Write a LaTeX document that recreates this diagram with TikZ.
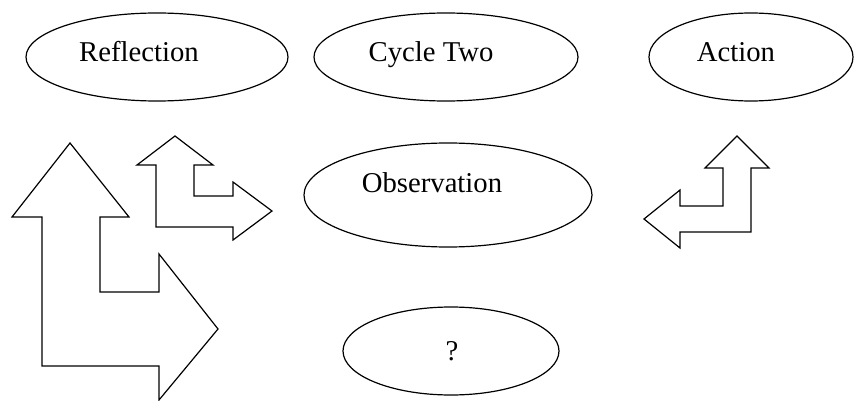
\documentclass[tikz,border=0pt]{standalone}
\usepackage{fontspec}
\setmainfont{Liberation Serif}
\usetikzlibrary{shapes.geometric}

\begin{document}
\begin{tikzpicture}[x=1pt,y=-1pt,line width=1.2pt,line join=miter,
  bubble/.style={draw,ellipse,inner sep=0pt},
  lbl/.style={anchor=base,inner sep=0pt,font=\fontsize{28.7}{34}\selectfont},
  turn/.style={draw}]
\useasboundingbox (0,0) rectangle (854,401);
% the five ellipses
\node[bubble,minimum width=262,minimum height=88] (refl) at (157,57) {};
\node[bubble,minimum width=264,minimum height=88] (cyc) at (446,57) {};
\node[bubble,minimum width=204,minimum height=88] (act) at (751,57) {};
\node[bubble,minimum width=288,minimum height=104] (obs) at (448,195) {};
\node[bubble,minimum width=216,minimum height=88] (q) at (451,351) {};
\node[lbl] (refl-t) at (139,62) {Reflection};
\node[lbl] (cyc-t) at (431,62) {Cycle Two};
\node[lbl] (act-t) at (736,62) {Action};
\node[lbl] (obs-t) at (432,192) {Observation};
\node[lbl] (q-t) at (452,360) {?};
% bent arrows
\draw[turn] (70,143)--(129,217)--(100,217)--(100,292)--(159,292)--(159,254)--(218,329)
 --(159,400)--(159,366)--(42,366)--(42,217)--(12,217)--cycle;
\draw[turn] (175,136)--(213,165)--(194,165)--(194,196)--(233,196)--(233,182)--(272,211)
 --(233,240)--(233,227)--(156,227)--(156,165)--(137,165)--cycle;
\draw[turn] (737,136)--(769,168)--(751,168)--(751,232)--(680,232)--(680,248)--(644,219)
 --(680,190)--(680,206)--(723,206)--(723,168)--(705,168)--cycle;
\end{tikzpicture}
\end{document}
